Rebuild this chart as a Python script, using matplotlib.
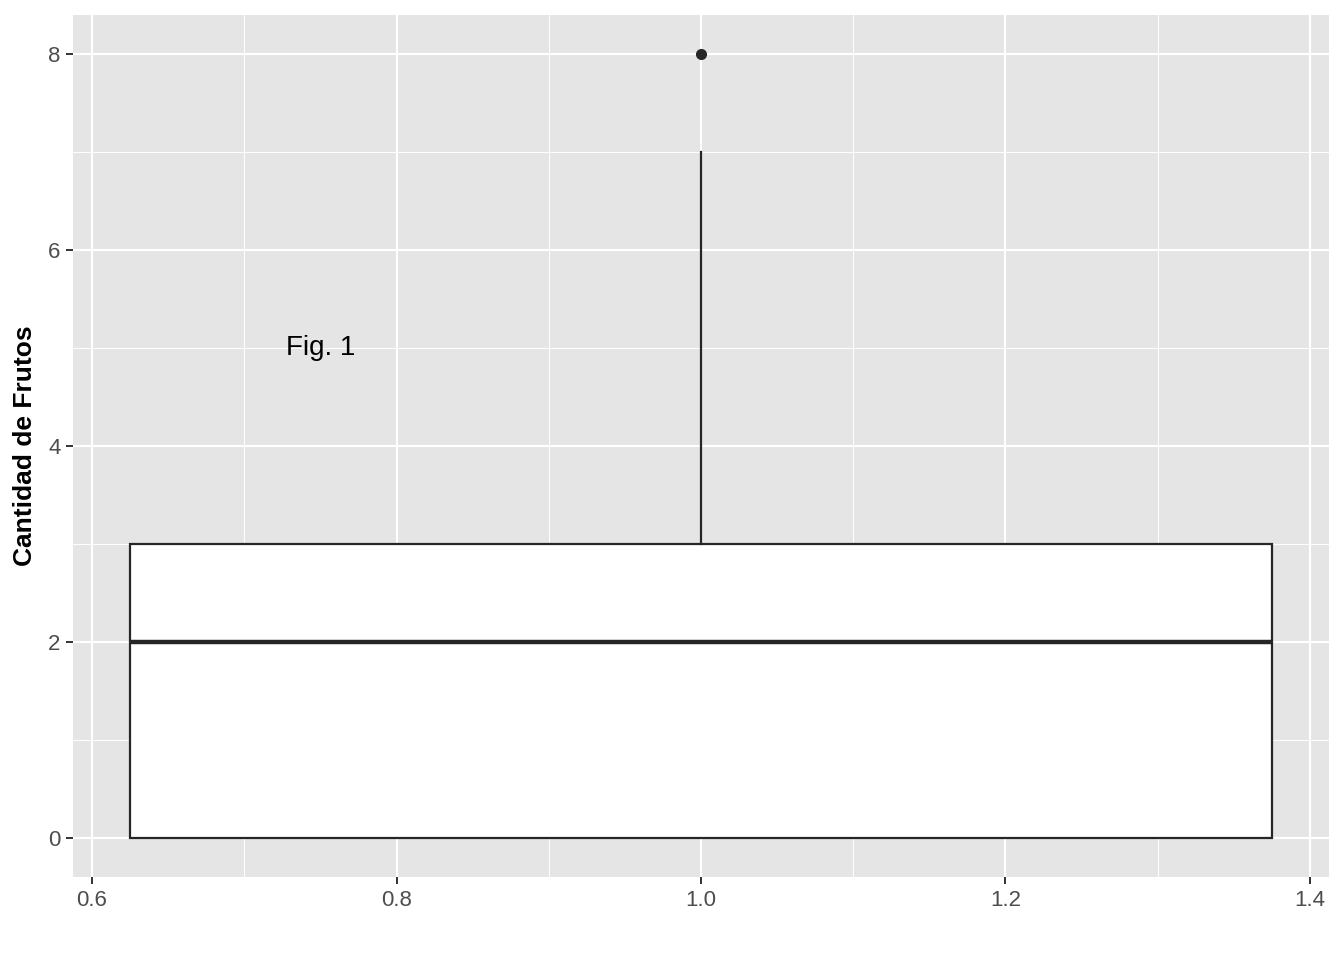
import numpy as np
import matplotlib.pyplot as plt

plt.rcParams['font.family'] = ['Liberation Sans', 'DejaVu Sans']

# box statistics
box_pos = 1.0
box_width = 0.75
q1 = 0
median = 2
q3 = 3
whisker_low = 0
whisker_high = 7
outliers = [8]

x_ticks = [0.6, 0.8, 1.0, 1.2, 1.4]
y_ticks = [0, 2, 4, 6, 8]

fig = plt.figure(figsize=(13.44, 9.6), dpi=100)
ax = fig.add_axes([73/1344, 1 - 877/960, (1329 - 73)/1344, (877 - 15)/960])
ax.set_facecolor('#E5E5E5')

# gridlines, ggplot style
ax.set_xticks(x_ticks)
ax.set_yticks(y_ticks)
ax.set_xticks(np.arange(0.7, 1.4, 0.2), minor=True)
ax.set_yticks(np.arange(1, 8, 2), minor=True)
ax.grid(True, which='major', color='white', linewidth=1.5)
ax.grid(True, which='minor', color='white', linewidth=0.7)
ax.set_axisbelow(True)

stats = [{'med': median, 'q1': q1, 'q3': q3, 'whislo': whisker_low,
          'whishi': whisker_high, 'fliers': outliers}]
ax.bxp(stats, positions=[box_pos], widths=box_width, patch_artist=True,
       showcaps=False,
       boxprops=dict(facecolor='white', edgecolor='#262626', linewidth=1.6),
       medianprops=dict(color='#262626', linewidth=3.2, solid_capstyle='butt'),
       whiskerprops=dict(color='#262626', linewidth=1.6),
       flierprops=dict(marker='o', markerfacecolor='#262626',
                       markeredgecolor='#262626', markersize=7),
       manage_ticks=False, zorder=3)

ax.text(0.75, 5, 'Fig. 1', fontsize=20, ha='center', va='center', color='black')

ax.set_xlim(0.5875, 1.4125)
ax.set_ylim(-0.4, 8.4)
ax.set_xticklabels(['0.6', '0.8', '1.0', '1.2', '1.4'])
ax.set_yticklabels(['0', '2', '4', '6', '8'])
ax.tick_params(which='major', length=5, width=1.4, color='#333333',
               labelsize=16, labelcolor='#4D4D4D', pad=4)
ax.tick_params(which='minor', length=0)
for s in ax.spines.values():
    s.set_visible(False)

ax.set_ylabel('Cantidad de Frutos', fontsize=19, fontweight='bold', labelpad=8)

fig.savefig('out.png', dpi=100)
